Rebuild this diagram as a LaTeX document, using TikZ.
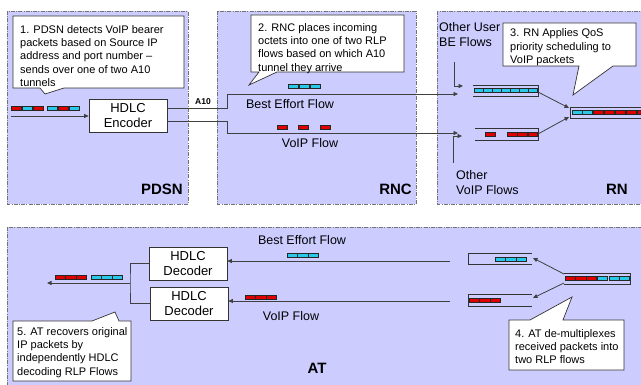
\documentclass[tikz,border=0pt]{standalone}
\usepackage{fontspec}
\setmainfont{Liberation Sans}
\usetikzlibrary{arrows.meta}
\definecolor{panelc}{RGB}{204,204,255}
\definecolor{pred}{RGB}{225,0,0}
\definecolor{pcyan}{RGB}{40,200,235}
\newcommand\pk[4]{\filldraw[fill=#3,draw=black!85,line width=0.6pt] (#1,#2-2) rectangle (#1+#4,#2+2);}
\begin{document}
\begin{tikzpicture}[x=1pt,y=-1pt,
  panel/.style={fill=panelc, draw=black!55, line width=0.8pt, dash pattern=on 4pt off 1.2pt on 1pt off 1.2pt},
  box/.style={draw=black!80, fill=white, line width=0.7pt, minimum width=78pt, minimum height=33pt, inner sep=0pt, align=center, font=\fontsize{13}{15}\selectfont},
  ctext/.style={anchor=north west, inner sep=0pt, align=left, font=\fontsize{11}{13.4}\selectfont},
  callout/.style={draw=black!80, fill=white, line width=0.7pt},
  line/.style={draw=black!75, line width=0.8pt},
  arr/.style={line, -{Triangle[length=4.5pt,width=4pt]}},
  tube/.style={draw=black!80, line width=0.7pt},
  flbl/.style={font=\fontsize{12.5}{15}\selectfont, inner sep=0pt},
  olbl/.style={font=\fontsize{12.5}{15}\selectfont, inner sep=0pt, anchor=north west, align=left},
  lbl/.style={font=\fontsize{15}{18}\selectfont\bfseries, inner sep=0pt}
]
\useasboundingbox (0,0) rectangle (641,385);
% panels
\draw[panel] (7,11) rectangle (188,204);
\draw[panel] (217,11) rectangle (416,204);
\draw[panel] (437,11) rectangle (648,204);
\draw[panel] (7,227) rectangle (648,392);
\node[lbl, anchor=east] (lpdsn) at (183,189) {PDSN};
\node[lbl, anchor=east] (lrnc) at (412,189) {RNC};
\node[lbl, anchor=east] (lrn) at (628,189) {RN};
\node[lbl] (lat) at (317,368) {AT};

% callout 1
\draw[callout] (13,16) -- (184,16) -- (184,88) -- (64,88) -- (45,94) -- (40,88) -- (13,88) -- cycle;
\node[ctext] (t1) at (20,25) {1. PDSN detects VoIP bearer\\packets based on Source IP\\address and port number --\\sends over one of two A10\\tunnels};
% callout 2
\draw[callout] (251,15) -- (404,15) -- (404,72) -- (277,72) -- (249,85) -- (259,72) -- (251,72) -- cycle;
\node[ctext] (t2) at (258,23) {2. RNC places incoming\\octets into one of two RLP\\flows based on which A10\\tunnel they arrive};
% callout 3
\draw[callout] (503,23) -- (636,23) -- (636,66) -- (613,66) -- (573,95) -- (579,66) -- (503,66) -- cycle;
\node[ctext] (t3) at (510,28.5) {3. RN Applies QoS\\priority scheduling to\\VoIP packets};
% callout 4
\draw[callout] (509,320) -- (530,320) -- (572,297) -- (563,320) -- (624,320) -- (624,370) -- (509,370) -- cycle;
\node[ctext] (t4) at (515,329) {4. AT de-multiplexes\\received packets into\\two RLP flows};
% callout 5
\draw[callout] (13,321) -- (92,321) -- (115,312) -- (119,321) -- (131,321) -- (131,381) -- (13,381) -- cycle;
\node[ctext] (t5) at (17,327) {5. AT recovers original\\IP packets by\\independently HDLC\\decoding RLP Flows};

% PDSN
\node[box] (enc) at (128,115.5) {HDLC\\Encoder};
\coordinate (pin) at (11,116);
\draw[arr] (pin) -- (pin -| enc.west);
\pk{11}{108}{pred}{10}\pk{22}{108}{pcyan}{10}\pk{33}{108}{pred}{10}
\pk{47}{108}{pcyan}{10}\pk{58}{108}{pred}{10}\pk{69}{108}{pcyan}{10}
\node[font=\fontsize{8.5}{10}\selectfont\bfseries, inner sep=0pt] (a10) at (203,102) {A10};

% RNC flows
\coordinate (beEnd) at (458,94);
\coordinate (voEnd) at (458,133);
\draw[arr] ([yshift=7.5pt]enc.east) -- (227,108) -- (227,94) -- (beEnd);
\draw[arr] ([yshift=-5.5pt]enc.east) -- (227,121) -- (227,133) -- (voEnd);
\pk{288}{86}{pcyan}{10}\pk{299}{86}{pcyan}{10}\pk{310}{86}{pcyan}{10}
\pk{277}{127}{pred}{10}\pk{298}{127}{pred}{10}\pk{320}{127}{pred}{10}
\node[flbl] (bef1) at (290,104) {Best Effort Flow};
\node[flbl] (vof1) at (310,143) {VoIP Flow};

% RN
\node[olbl] (obe) at (439,22) {Other User\\BE Flows};
\node[olbl] (ovo) at (456,170) {Other\\VoIP Flows};
\coordinate (obeS) at (454,62);
\coordinate (obeE) at (463,86);
\draw[arr] (obeS) |- (obeE);
\coordinate (ovoS) at (453,163);
\coordinate (ovoE) at (462,136);
\draw[arr] (ovoS) |- (ovoE);
% tubes
\draw[tube] (473,85) -- (538,85) -- (538,96) -- (473,96);
\draw[tube] (475,128) -- (538,128) -- (538,140) -- (475,140);
\draw[tube] (645,107) -- (570,107) -- (570,118) -- (645,118);
\foreach \i in {0,...,6} {\pk{474+9*\i}{90.5}{pcyan}{9}}
\pk{485}{134}{pred}{10}\pk{507}{134}{pred}{10}\pk{517.5}{134}{pred}{10}\pk{528}{134}{pred}{9.5}
\pk{572}{112.5}{pcyan}{10}\pk{582.5}{112.5}{pcyan}{10}\pk{593}{112.5}{pred}{10}\pk{604}{112.5}{pred}{10}\pk{615}{112.5}{pred}{10}\pk{626}{112.5}{pred}{10}\pk{637}{112.5}{pred}{10}
\coordinate (u1) at (538,92); \coordinate (u2) at (569,108);
\coordinate (l1) at (538,134); \coordinate (l2) at (569,117);
\draw[arr] (u1) -- (u2);
\draw[arr] (l1) -- (l2);

% AT
\node[box] (dec1) at (188,263.5) {HDLC\\Decoder};
\node[box] (dec2) at (189,303.5) {HDLC\\Decoder};
\coordinate (jmid) at (130,283);
\coordinate (outEnd) at (47,283);
\draw[line] (dec1.west) -| (jmid) |- (dec2.west);
\draw[arr] (jmid) -- (outEnd);
\pk{55}{277}{pred}{10.5}\pk{65.5}{277}{pred}{10.5}\pk{76}{277}{pred}{10.5}
\pk{91}{277}{pcyan}{10.5}\pk{101.5}{277}{pcyan}{10.5}\pk{112}{277}{pcyan}{10.5}
\coordinate (atbe) at (450,261);
\coordinate (atvo) at (450,301);
\draw[arr] (atbe) -- (atbe -| dec1.east);
\draw[arr] (atvo) -- (atvo -| dec2.east);
\node[flbl] (bef2) at (302,240) {Best Effort Flow};
\node[flbl] (vof2) at (291,316) {VoIP Flow};
\pk{287}{255}{pcyan}{10.5}\pk{297.5}{255}{pcyan}{10.5}\pk{308}{255}{pcyan}{10.5}
\pk{245}{297}{pred}{10.5}\pk{255.5}{297}{pred}{10.5}\pk{266}{297}{pred}{10.5}
% tubes
\draw[tube] (532,253) -- (468,253) -- (468,264) -- (532,264);
\draw[tube] (532,294) -- (468,294) -- (468,306) -- (532,306);
\draw[tube] (564,273) -- (630,273) -- (630,284) -- (564,284);
\pk{495}{259}{pcyan}{10.5}\pk{505.5}{259}{pcyan}{10.5}\pk{516}{259}{pcyan}{10.5}
\pk{469}{300}{pred}{10.5}\pk{479.5}{300}{pred}{10.5}\pk{490}{300}{pred}{10.5}
\pk{565}{278.5}{pred}{10.5}\pk{575.5}{278.5}{pred}{10.5}\pk{586}{278.5}{pred}{10.5}\pk{597}{278.5}{pcyan}{10.5}\pk{609}{278.5}{pcyan}{10}\pk{619}{278.5}{pcyan}{10}
\coordinate (m1) at (564,274); \coordinate (m2) at (533,258);
\coordinate (m3) at (564,283); \coordinate (m4) at (533,298);
\draw[arr] (m1) -- (m2);
\draw[arr] (m3) -- (m4);
\end{tikzpicture}
\end{document}
